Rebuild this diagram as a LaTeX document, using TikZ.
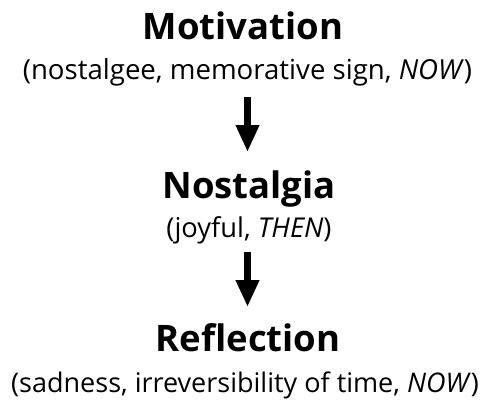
\documentclass[tikz,border=0pt]{standalone}
\usepackage{fontspec}
\setmainfont{Open Sans}
\usetikzlibrary{arrows.meta}
\begin{document}
\begin{tikzpicture}[x=1pt,y=-1pt,
  title/.style={anchor=base,inner sep=0pt,font=\fontsize{36.5}{40}\selectfont\bfseries},
  sub/.style={anchor=base,inner sep=0pt,font=\fontsize{27.3}{30}\selectfont},
  flow/.style={line width=7pt,-{Triangle[width=22pt,length=27pt]}}]
\useasboundingbox (0,0) rectangle (486,404);
\node[title] (mot) at (243,39.5) {Motivation};
\node[sub,font=\fontsize{27.6}{30}\selectfont] (mots) at (247.5,79) {(nostalgee, memorative sign, \textit{NOW})};
\node[title] (nos) at (249,198) {Nostalgia};
\node[sub] (noss) at (249,237) {(joyful, \textit{THEN})};
\node[title] (ref) at (248,351) {Reflection};
\node[sub,font=\fontsize{27}{30}\selectfont] (refs) at (245,392) {(sadness, irreversibility of time, \textit{NOW})};
\coordinate (a1) at (247.5,97);
\coordinate (b1) at (247.5,152);
\coordinate (a2) at (247.5,252);
\coordinate (b2) at (247.5,307);
\draw[flow] (a1) -- (b1);
\draw[flow] (a2) -- (b2);
\end{tikzpicture}
\end{document}
